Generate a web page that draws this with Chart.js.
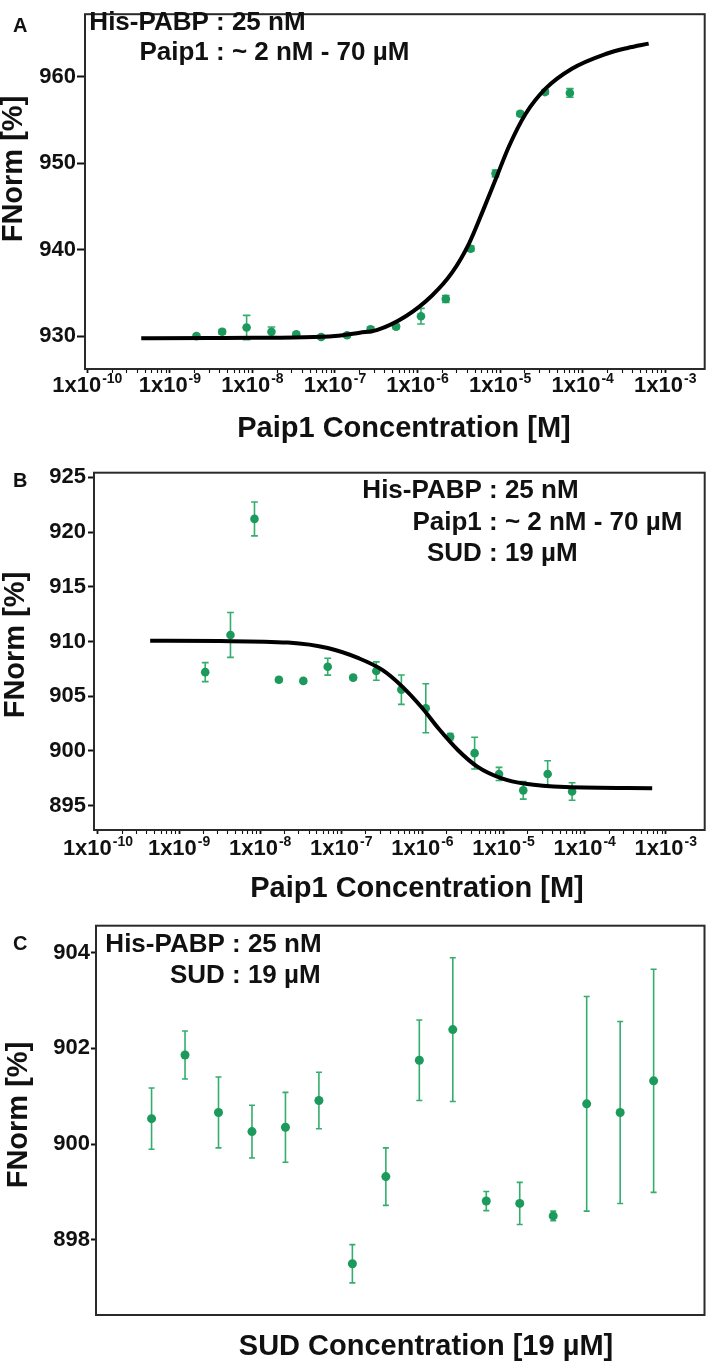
<!DOCTYPE html>
<html lang="en">
<head>
<meta charset="UTF-8">
<title>FNorm - Paip1 / SUD</title>
<script src="https://cdn.jsdelivr.net/npm/chart.js"></script>
<style>
    body { margin: 0; background: #fff; }
    #wrap { position: relative; width: 709px; height: 1365px; overflow: hidden; }
    canvas { position: absolute; left: 0; }
    #chartA { top: 0; }
    #chartB { top: 440px; }
    #chartC { top: 900px; }
</style>
</head>
<body>
<div id="wrap">
    <canvas id="chartA" width="709" height="460"></canvas>
    <canvas id="chartB" width="709" height="470"></canvas>
    <canvas id="chartC" width="709" height="465"></canvas>
</div>
<script>
// Paip1 dilution series [M] (panels A and B)
const paip1Conc = [2.1e-9, 4.3e-9, 8.5e-9, 1.7e-8, 3.4e-8, 6.8e-8, 1.4e-7, 2.7e-7,
                   5.5e-7, 1.1e-6, 2.2e-6, 4.4e-6, 8.8e-6, 1.75e-5, 3.5e-5, 7.0e-5];

// A: His-PABP + Paip1
const fnormA = [930.0, 930.5, 931.0, 930.5, 930.2, 929.9, 930.1, 930.8,
                931.1, 932.3, 934.3, 940.1, 948.8, 955.7, 958.2, 958.1];
const errA   = [0.2, 0.25, 1.4, 0.55, 0.2, 0.2, 0.2, 0.25,
                0.25, 0.9, 0.4, 0.3, 0.4, 0.25, 0.25, 0.5];
const fitConcA = [4.5e-10, 3.2e-9, 1e-8, 3.2e-8, 1e-7, 2e-7, 3.2e-7, 7.2e-7, 1.5e-6, 2.6e-6,
                  4.2e-6, 6.2e-6, 8.9e-6, 1.29e-5, 2.04e-5, 3.55e-5, 7.4e-5, 1.9e-4, 3.5e-4, 6.3e-4];
const fitA     = [929.75, 929.78, 929.8, 929.85, 930.0, 930.4, 930.7, 932.3, 934.7, 937.3,
                  940.7, 944.5, 948.2, 952.0, 955.7, 958.6, 960.9, 962.6, 963.3, 963.8];

// B: His-PABP + Paip1 + SUD
const fnormB = [907.2, 910.6, 921.2, 906.5, 906.4, 907.7, 906.7, 907.3,
                905.6, 903.9, 901.3, 899.8, 897.9, 896.4, 897.9, 896.3];
const errB   = [0.87, 2.05, 1.55, 0.2, 0.2, 0.77, 0.2, 0.84,
                1.34, 2.24, 0.3, 1.45, 0.6, 0.8, 1.2, 0.8];
const fitConcB = [4.4e-10, 3.2e-9, 2.2e-8, 6.8e-8, 1.66e-7, 3.2e-7, 5.6e-7, 1e-6,
                  1.58e-6, 2.75e-6, 4.8e-6, 9.5e-6, 1.86e-5, 5.75e-5, 6.8e-4];
const fitB     = [910.06, 910.04, 909.9, 909.4, 908.45, 907.4, 905.9, 903.9,
                  902.05, 900.07, 898.55, 897.5, 897.0, 896.7, 896.6];

// C: His-PABP + SUD only (capillaries 1-16)
const capillaryC = [1, 2, 3, 4, 5, 6, 7, 8, 9, 10, 11, 12, 13, 14, 15, 16];
const fnormC = [900.53, 901.86, 900.66, 900.26, 900.35, 900.91, 897.50, 899.32,
                901.75, 902.39, 898.81, 898.76, 898.50, 900.84, 900.66, 901.32];
const errC   = [0.64, 0.5, 0.74, 0.55, 0.73, 0.59, 0.4, 0.6,
                0.84, 1.5, 0.2, 0.44, 0.1, 2.24, 1.9, 2.33];

// axis ticks
const decadeTicks  = [1e-10, 1e-9, 1e-8, 1e-7, 1e-6, 1e-5, 1e-4, 1e-3];
const decadeLabels = ['-10', '-9', '-8', '-7', '-6', '-5', '-4', '-3'];
const minorSteps   = [2, 3, 4, 5, 6, 7, 8, 9];
const yTicksA = [930, 940, 950, 960];
const yTicksB = [895, 900, 905, 910, 915, 920, 925];
const yTicksC = [898, 900, 902, 904];

const FONT = "'Liberation Sans', Arial, Helvetica, sans-serif";
const GREEN = '#1b9a5c';
const BAR_GREEN = '#34ad6e';
const INK = '#111111';

// all log ticks: decades plus 2..9 minor steps (marks only, labels drawn by hand)
const logTickVals = [];
decadeTicks.forEach(function (d, i) {
    logTickVals.push(d);
    if (i < decadeTicks.length - 1) minorSteps.forEach(function (m) { logTickVals.push(d * m); });
});

function pts(xs, ys) {
    return xs.map(function (x, i) { return { x: x, y: ys[i] }; });
}

// error bars, frame, panel letter, annotation, tick labels, axis titles
function decorPlugin(p) {
    return {
        id: 'decor' + p.letter,
        beforeDatasetsDraw(chart) {
            const ctx = chart.ctx, xs = chart.scales.x, ys = chart.scales.y;
            ctx.save();
            ctx.strokeStyle = BAR_GREEN;
            ctx.lineWidth = 1.6;
            p.xVals.forEach(function (xv, i) {
                const x = xs.getPixelForValue(xv);
                const top = ys.getPixelForValue(p.yVals[i] + p.err[i]);
                const bot = ys.getPixelForValue(p.yVals[i] - p.err[i]);
                ctx.beginPath();
                ctx.moveTo(x, top); ctx.lineTo(x, bot);
                ctx.moveTo(x - p.cap, top); ctx.lineTo(x + p.cap, top);
                ctx.moveTo(x - p.cap, bot); ctx.lineTo(x + p.cap, bot);
                ctx.stroke();
            });
            ctx.restore();
        },
        afterDraw(chart) {
            const ctx = chart.ctx, a = chart.chartArea, xs = chart.scales.x;
            ctx.save();
            ctx.strokeStyle = '#2a2a2a';
            ctx.lineWidth = 2;
            ctx.strokeRect(a.left, a.top, a.right - a.left, a.bottom - a.top);

            ctx.fillStyle = INK;
            ctx.textBaseline = 'alphabetic';
            ctx.textAlign = 'left';
            ctx.font = 'bold 20px ' + FONT;
            ctx.fillText(p.letter, p.letterX, p.letterY);

            ctx.font = 'bold 26px ' + FONT;
            p.notes.forEach(function (n, i) {
                ctx.textAlign = 'right';
                ctx.fillText(n[0] + ' ', p.colonX, p.noteY[i]);
                ctx.textAlign = 'left';
                ctx.fillText(': ' + n[1], p.colonX, p.noteY[i]);
            });

            if (p.tickLabels) {
                ctx.textAlign = 'left';
                decadeTicks.forEach(function (v, i) {
                    const x = xs.getPixelForValue(v);
                    const y = a.bottom + p.tickLabelDy;
                    ctx.font = 'bold 22px ' + FONT;
                    const w1 = ctx.measureText('1x10').width;
                    ctx.font = 'bold 14px ' + FONT;
                    const w2 = ctx.measureText(decadeLabels[i]).width;
                    const x0 = x - (w1 + w2 + 1) / 2;
                    ctx.font = 'bold 22px ' + FONT;
                    ctx.fillText('1x10', x0, y);
                    ctx.font = 'bold 14px ' + FONT;
                    ctx.fillText(decadeLabels[i], x0 + w1 + 1, y - 9);
                });
            }

            ctx.font = 'bold 29px ' + FONT;
            ctx.textAlign = 'center';
            ctx.fillText(p.xTitle, p.xTitleX, p.xTitleY);

            // y title, rotated
            ctx.translate(p.yTitleX, p.yTitleY);
            ctx.rotate(-Math.PI / 2);
            ctx.textBaseline = 'middle';
            ctx.fillText('FNorm [%]', 0, 0);
            ctx.restore();
        }
    };
}

function makePanel(id, p) {
    const datasets = [];
    if (p.fitX) {
        datasets.push({
            data: pts(p.fitX, p.fitY),
            showLine: true,
            borderColor: '#000',
            borderWidth: p.fitWidth,
            pointRadius: 0,
            cubicInterpolationMode: 'monotone',
            fill: false
        });
    }
    datasets.push({
        data: pts(p.xVals, p.yVals),
        showLine: false,
        pointRadius: p.r,
        pointBackgroundColor: GREEN,
        pointBorderWidth: 0,
        borderWidth: 0
    });

    return new Chart(document.getElementById(id), {
        type: 'scatter',
        data: { datasets: datasets },
        options: {
            responsive: false,
            animation: false,
            layout: { padding: { top: p.padTop, right: p.padRight, left: 0, bottom: 0 } },
            plugins: { legend: { display: false }, tooltip: { enabled: false } },
            scales: {
                x: {
                    type: p.logX ? 'logarithmic' : 'linear',
                    min: p.xMin,
                    max: p.xMax,
                    bounds: 'data',
                    afterBuildTicks: function (s) { s.ticks = p.xTickVals.map(function (v) { return { value: v }; }); },
                    afterFit: function (s) { s.height = p.xAxisH; },
                    grid: {
                        display: p.tickLabels,
                        drawOnChartArea: false,
                        drawTicks: true,
                        tickLength: 4,
                        color: INK,
                        tickWidth: function (c) { return decadeTicks.indexOf(c.tick.value) >= 0 ? 1.8 : 1.1; }
                    },
                    border: { display: false },
                    ticks: { display: false }
                },
                y: {
                    min: p.yMin,
                    max: p.yMax,
                    bounds: 'data',
                    afterBuildTicks: function (s) { s.ticks = p.yTicks.map(function (v) { return { value: v }; }); },
                    afterFit: function (s) { s.width = p.yAxisW; },
                    grid: { drawOnChartArea: false, tickLength: p.yTickLen, tickWidth: 2, color: INK },
                    border: { display: false },
                    ticks: {
                        color: INK,
                        padding: p.yTickPad,
                        font: { family: FONT, weight: 'bold', size: 22 }
                    },
                    title: { display: false }
                }
            }
        },
        plugins: [decorPlugin(p)]
    });
}

document.addEventListener('DOMContentLoaded', function () {
    if (typeof Chart === 'undefined') {
        document.body.innerHTML += '<p style="color:red">Chart.js not loaded!</p>';
        return;
    }
    try {
        // A
        makePanel('chartA', {
            letter: 'A', letterX: 13, letterY: 32,
            xVals: paip1Conc, yVals: fnormA, err: errA, r: 4.3, cap: 3.8,
            fitX: fitConcA, fitY: fitA, fitWidth: 4,
            logX: true, xMin: Math.pow(10, -10.028), xMax: Math.pow(10, -2.522), xTickVals: logTickVals,
            yMin: 926.2, yMax: 967.2, yTicks: yTicksA,
            padTop: 4, padRight: 4, yAxisW: 85, xAxisH: 91,
            yTickLen: 8, yTickPad: 1,
            tickLabels: true, tickLabelDy: 23,
            notes: [['His-PABP', '25 nM'], ['Paip1', '~ 2 nM - 70 µM']],
            colonX: 216, noteY: [30, 60],
            xTitle: 'Paip1 Concentration [M]', xTitleX: 404, xTitleY: 437,
            yTitleX: 14, yTitleY: 169
        });

        // B
        makePanel('chartB', {
            letter: 'B', letterX: 13, letterY: 47,
            xVals: paip1Conc, yVals: fnormB, err: errB, r: 4.3, cap: 3.4,
            fitX: fitConcB, fitY: fitB, fitWidth: 4,
            logX: true, xMin: Math.pow(10, -10.049), xMax: Math.pow(10, -2.52), xTickVals: logTickVals,
            yMin: 892.78, yMax: 925.42, yTicks: yTicksB,
            padTop: 32.7, padRight: 4, yAxisW: 94, xAxisH: 80,
            yTickLen: 6, yTickPad: 2,
            tickLabels: true, tickLabelDy: 25,
            notes: [['His-PABP', '25 nM'], ['Paip1', '~ 2 nM - 70 µM'], ['SUD', '19 µM']],
            colonX: 489, noteY: [58, 90, 120.5],
            xTitle: 'Paip1 Concentration [M]', xTitleX: 417, xTitleY: 457,
            yTitleX: 16, yTitleY: 205
        });

        // C
        makePanel('chartC', {
            letter: 'C', letterX: 13, letterY: 50,
            xVals: capillaryC, yVals: fnormC, err: errC, r: 4.5, cap: 3,
            logX: false, xMin: -0.66, xMax: 17.52, xTickVals: [],
            yMin: 896.43, yMax: 904.56, yTicks: yTicksC,
            padTop: 25.7, padRight: 3.5, yAxisW: 96, xAxisH: 50,
            yTickLen: 5, yTickPad: 1,
            tickLabels: false, tickLabelDy: 0,
            notes: [['His-PABP', '25 nM'], ['SUD', '19 µM']],
            colonX: 232, noteY: [51.5, 83],
            xTitle: 'SUD Concentration [19 µM]', xTitleX: 426, xTitleY: 455,
            yTitleX: 19, yTitleY: 215
        });
    } catch (error) {
        console.error('Chart creation error:', error);
        document.body.innerHTML += '<p style="color:red">Error: ' + error.message + '</p>';
    }
});
</script>
</body>
</html>
